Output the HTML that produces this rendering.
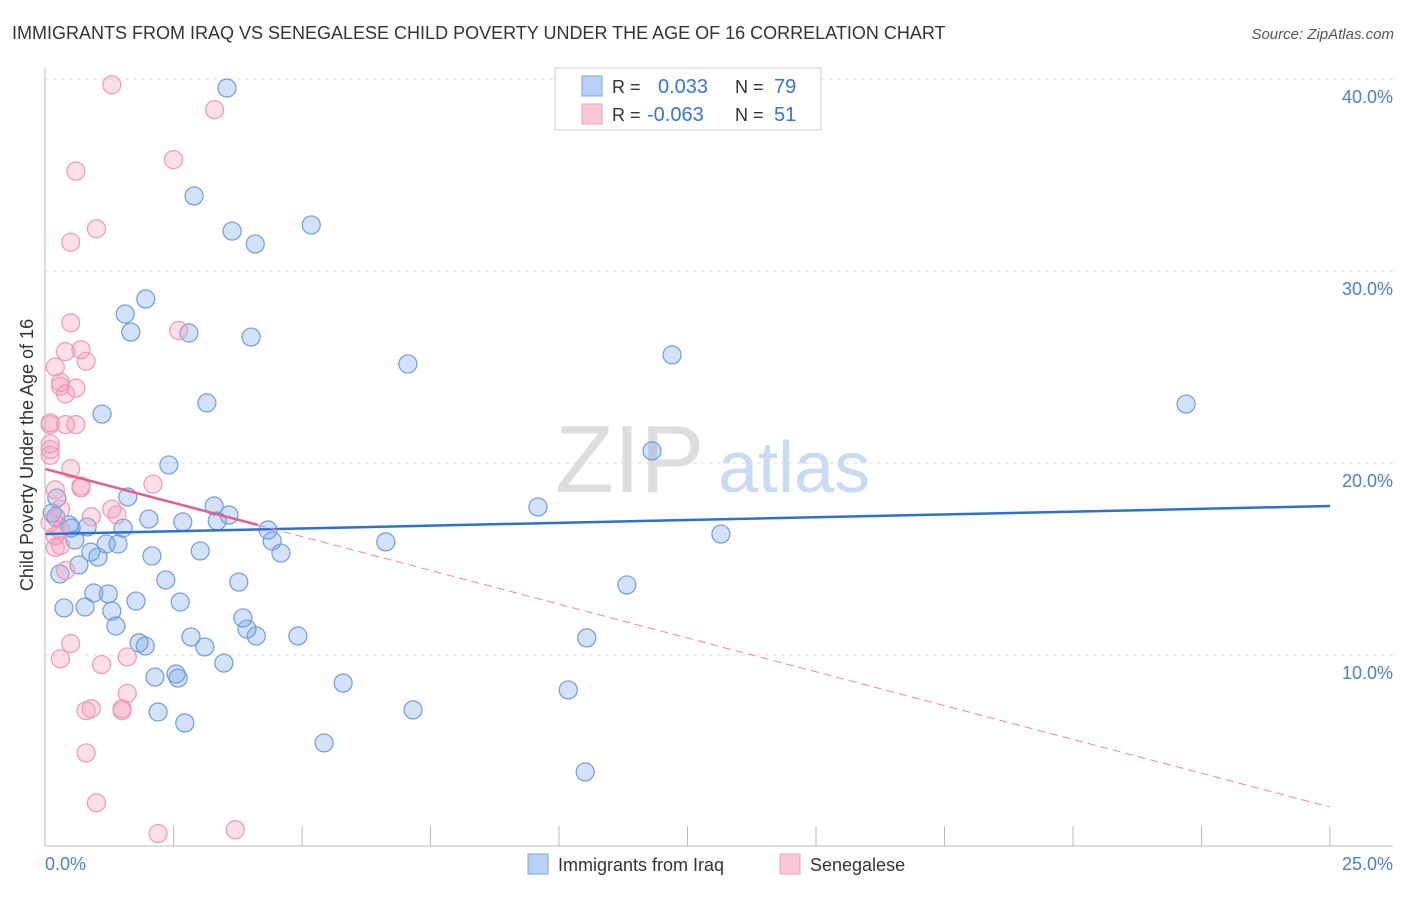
<!DOCTYPE html>
<html><head><meta charset="utf-8"><style>
body{margin:0;background:#fff;font-family:"Liberation Sans",sans-serif}
svg text{font-family:"Liberation Sans",sans-serif}
</style></head><body>
<svg id="c" width="1406" height="892" xmlns="http://www.w3.org/2000/svg">
<text x="12" y="39" font-size="18" fill="#333">IMMIGRANTS FROM IRAQ VS SENEGALESE CHILD POVERTY UNDER THE AGE OF 16 CORRELATION CHART</text>
<text x="1394" y="39" font-size="15" fill="#555" font-style="italic" text-anchor="end">Source: ZipAtlas.com</text>
<text x="555" y="492" font-size="96" fill="#ddd" font-family="Liberation Serif">ZIP</text>
<text x="718" y="492" font-size="72" fill="#c9dbf3">atlas</text>
<g id="grid"></g><g id="pts"></g><g id="lines"></g>
<line x1="45" y1="68" x2="45" y2="846" stroke="#bbb"/>
<line x1="45" y1="846" x2="1393" y2="846" stroke="#bbb"/>
<text transform="translate(33,455) rotate(-90)" font-size="18" fill="#333" text-anchor="middle">Child Poverty Under the Age of 16</text>
<text x="45" y="870" font-size="18" fill="#4a7fd4">0.0%</text>
<text x="1393" y="870" font-size="18" fill="#4a7fd4" text-anchor="end">25.0%</text>
<g>
<rect x="555" y="68" width="266" height="62" fill="#fff" stroke="#ccc"/>
<rect x="582" y="76" width="20" height="20" fill="#b9d1f5" stroke="#7aa3e3"/>
<rect x="582" y="104" width="20" height="20" fill="#f9c7d5" stroke="#eea0b8"/>
<text x="612" y="93" font-size="18" fill="#333">R = </text><text x="658" y="93" font-size="20" fill="#3c73cf">0.033</text>
<text x="735" y="93" font-size="18" fill="#333">N = </text><text x="774" y="93" font-size="20" fill="#3c73cf">79</text>
<text x="612" y="121" font-size="18" fill="#333">R = </text><text x="647" y="121" font-size="20" fill="#3c73cf">-0.063</text>
<text x="735" y="121" font-size="18" fill="#333">N = </text><text x="774" y="121" font-size="20" fill="#3c73cf">51</text>
</g>
<g>
<rect x="528" y="854" width="20" height="20" fill="#b9d1f5" stroke="#7aa3e3"/>
<text x="558" y="871" font-size="18" fill="#333">Immigrants from Iraq</text>
<rect x="780" y="854" width="20" height="20" fill="#f9c7d5" stroke="#eea0b8"/>
<text x="810" y="871" font-size="18" fill="#333">Senegalese</text>
</g>
</svg>
<script>
const yTicks=[10,20,30,40];
const xTicks=[0,2.5,5,7.5,10,12.5,15,17.5,20,22.5,25];
const blueX=[3.54,2.90,3.64,5.18,4.09,1.96,1.56,1.67,2.80,4.01,7.06,12.20,22.20,1.11,3.15,11.81,2.41,0.23,1.61,9.59,3.29,2.68,3.35,3.58,2.02,0.14,0.21,0.47,0.51,4.34,4.42,6.63,13.15,1.52,0.82,0.58,1.19,1.42,0.89,1.03,2.08,4.59,3.02,0.66,0.29,2.35,3.77,11.32,0.95,1.23,1.77,2.63,0.37,0.78,1.30,1.38,3.85,3.93,4.11,4.92,2.84,1.83,1.95,10.54,3.11,3.48,2.55,2.14,2.59,5.80,10.18,2.20,2.72,7.16,5.43,10.51];
const blueY=[39.53,33.91,32.08,32.40,31.41,28.54,27.76,26.82,26.77,26.56,25.16,25.63,23.07,22.55,23.13,20.63,19.90,18.18,18.23,17.71,17.76,16.93,16.98,17.29,17.08,17.40,17.19,16.77,16.61,16.51,15.94,15.89,16.30,16.61,16.67,15.99,15.78,15.78,15.36,15.10,15.16,15.31,15.42,14.69,14.22,13.91,13.80,13.65,13.23,13.18,12.81,12.76,12.45,12.50,12.29,11.51,11.93,11.35,10.99,10.99,10.94,10.63,10.47,10.89,10.42,9.58,9.01,8.85,8.80,8.54,8.18,7.03,6.46,7.14,5.42,3.91];
const pinkX=[1.3,3.3,2.5,0.6,1.0,0.5,0.5,2.6,0.7,0.4,0.8,0.2,0.3,0.3,0.6,0.4,0.1,0.1,0.4,0.6,0.1,0.1,0.1,0.5,0.7,2.1,0.7,0.2,1.3,1.4,0.3,0.9,0.1,0.2,0.3,0.3,0.2,0.4,0.5,0.3,1.1,1.6,0.9,0.8,1.5,1.6,0.8,1.0,2.2,3.7,1.5];
const pinkY=[39.7,38.4,35.8,35.2,32.2,31.5,27.3,26.9,25.9,25.8,25.3,25.0,24.2,24.0,23.9,23.6,22.1,22.0,22.0,22.0,21.0,20.7,20.4,19.7,18.7,18.9,18.8,18.6,17.6,17.3,17.6,17.2,16.9,16.2,16.5,15.7,15.6,14.4,10.6,9.8,9.5,9.9,7.2,7.1,7.2,8.0,4.9,2.3,0.7,0.9,7.1];
const blueLine=[16.30,17.76];
const pinkLine=[19.69,2.08];
const pinkSolidEnd=4.14;
const NS="http://www.w3.org/2000/svg";
const sx=v=>45+v/25*1285, sy=v=>847-v*19.2;
function mk(t,a,p){const e=document.createElementNS(NS,t);for(const k in a)e.setAttribute(k,a[k]);p.appendChild(e);return e;}
const grid=document.getElementById('grid');
yTicks.forEach(t=>{
 const l=mk('line',{x1:45,x2:1393,y1:sy(t),y2:sy(t),stroke:'#ddd','stroke-dasharray':'4,4'},grid);
 
 
 const tx=mk('text',{x:1393,y:sy(t)+24,'font-size':18,fill:'#4a7fd4','text-anchor':'end'},grid);
 tx.textContent=t.toFixed(1)+'%';
 
 
});
xTicks.forEach(t=>{
 const l=mk('line',{x1:sx(t),x2:sx(t),y1:826,y2:846,stroke:'#bbb'},grid);
 
 
});
const pts=document.getElementById('pts');
blueX.forEach((x,i)=>{
 const c=mk('circle',{cx:sx(x),cy:sy(blueY[i]),r:9,fill:'rgba(110,160,235,0.3)',stroke:'#6f9be0','stroke-width':1.2},pts);
 
 
});
pinkX.forEach((x,i)=>{
 const c=mk('circle',{cx:sx(x),cy:sy(pinkY[i]),r:9,fill:'rgba(245,150,180,0.3)',stroke:'#ee9ab4','stroke-width':1.2},pts);
 
 
});
const lines=document.getElementById('lines');
const pAt=x=>pinkLine[0]+(pinkLine[1]-pinkLine[0])*x/25;
let l1=mk('line',{x1:sx(0),y1:sy(blueLine[0]),x2:sx(25),y2:sy(blueLine[1]),stroke:'#2f6fd0','stroke-width':2.5},lines);


let l2=mk('line',{x1:sx(0),y1:sy(pinkLine[0]),x2:sx(pinkSolidEnd),y2:sy(pAt(pinkSolidEnd)),stroke:'#e0608a','stroke-width':2.5},lines);


let l3=mk('line',{x1:sx(pinkSolidEnd),y1:sy(pAt(pinkSolidEnd)),x2:sx(25),y2:sy(pinkLine[1]),stroke:'#e88aa8','stroke-width':1,'stroke-dasharray':'8,5'},lines);


</script>
</body></html>
